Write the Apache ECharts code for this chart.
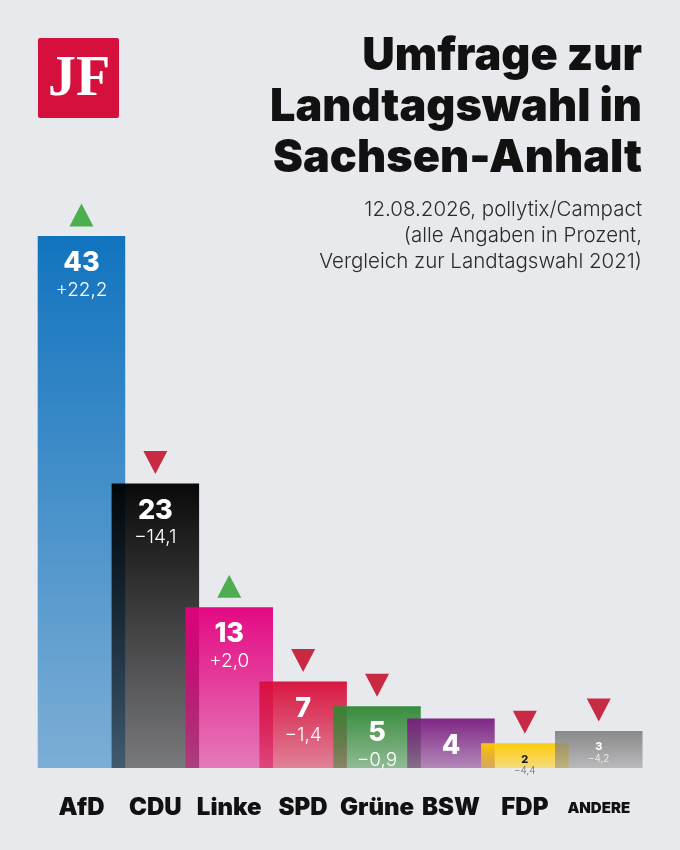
<!DOCTYPE html>
<html>
<head>
<meta charset="utf-8">
<script src="https://cdn.jsdelivr.net/npm/echarts@6/dist/echarts.min.js"></script>
<style>
html,body{margin:0;padding:0;background:#e8e9ed;}
#c{width:680px;height:850px;}
</style>
</head>
<body>
<div id="c"></div>
<script>
const categories = ['AfD','CDU','Linke','SPD','Grüne','BSW','FDP','ANDERE'];
const values = [43, 23, 13, 7, 5, 4, 2, 3];
const changes = ['+22,2','−14,1','+2,0','−1,4','−0,9','','−4,4','−4,2'];
const trends = ['up','down','up','down','down','','down','down'];
const barColors = ['#086ebc','#000000','#e3007f','#d70f3b','#2f8834','#7a1f80','#ffcb00','#858585'];
const titleLines = ['Umfrage zur','Landtagswahl in','Sachsen-Anhalt'];
const subtitleLines = ['12.08.2026, pollytix/Campact','(alle Angaben in Prozent,','Vergleich zur Landtagswahl 2021)'];

const chart = echarts.init(document.getElementById('c'), null, {renderer:'canvas'});

const FONT = 'Inter, "Noto Sans", sans-serif';
const BAR_W = 87.5;

function rgba(hex, a){
  const n = parseInt(hex.slice(1), 16);
  return 'rgba(' + ((n>>16)&255) + ',' + ((n>>8)&255) + ',' + (n&255) + ',' + a + ')';
}

const barData = values.map((v,i)=>[i, v]);
const arrowData = values.map((v,i)=>{
  if(!trends[i]) return {value:[i, v], symbolSize:0, itemStyle:{opacity:0}};
  const up = trends[i]==='up';
  return {
    value:[i, v],
    symbolRotate: up ? 0 : 180,
    itemStyle:{color: up ? '#4cae4f' : '#c92a43', opacity:1}
  };
});

function renderBar(params, api){
  const i = api.value(0);
  const v = api.value(1);
  const top = api.coord([i, v]);
  const base = api.coord([i, 0]);
  const x = top[0] - BAR_W/2;
  const h = base[1] - top[1];
  const small = v <= 3;
  const dark = barColors[i] === '#ffcb00';
  const children = [{
    type:'rect',
    shape:{x:x, y:top[1], width:BAR_W, height:h},
    style:{
      fill: new echarts.graphic.LinearGradient(0,0,0,1,[
        {offset:0, color:rgba(barColors[i], 0.96)},
        {offset:1, color:rgba(barColors[i], 0.48)}
      ])
    }
  }];
  children.push({
    type:'text',
    style:{
      text:String(v), x:top[0], y:top[1] + (small ? 16 : 27),
      fill: dark ? '#1a1a1a' : '#ffffff',
      fontFamily:FONT, fontWeight:800, fontSize: small ? 11 : 27,
      align:'center', verticalAlign:'middle'
    }
  });
  if(changes[i]){
    children.push({
      type:'text',
      style:{
        text:changes[i], x:top[0], y:top[1] + (small ? 28 : 54),
        fill: dark ? '#6b6b6b' : (small ? 'rgba(255,255,255,0.9)' : '#ffffff'),
        fontFamily:FONT, fontWeight:300, fontSize: small ? 10 : 19,
        align:'center', verticalAlign:'middle'
      }
    });
  }
  return {type:'group', children:children};
}

const graphics = [
  {type:'rect', shape:{x:38, y:38, width:81, height:80, r:2}, style:{fill:'#d5103d'}},
  {type:'text', x:79, y:81, style:{text:'JF', fill:'#ffffff', font:'bold 56px "Liberation Serif", "DejaVu Serif", serif', align:'center', verticalAlign:'middle'}}
];
titleLines.forEach((t,k)=>{
  graphics.push({type:'text', x:642, y:56 + k*51, style:{text:t, fill:'#111111', fontFamily:FONT, fontWeight:900, fontSize:45, align:'right', verticalAlign:'middle'}});
});
subtitleLines.forEach((t,k)=>{
  graphics.push({type:'text', x:642, y:210 + k*26, style:{text:t, fill:'#2a2a2a', fontFamily:FONT, fontWeight:300, fontSize:20.5, align:'right', verticalAlign:'middle'}});
});

chart.setOption({
  backgroundColor:'transparent',
  animation:false,
  grid:{left:44.5, right:44.3, top:236, bottom:82},
  xAxis:{
    type:'category',
    data: categories.map((c,i)=> i===categories.length-1 ? {value:c, textStyle:{fontSize:15, padding:[5,0,0,0]}} : c),
    axisLine:{show:false}, axisTick:{show:false},
    axisLabel:{interval:0, margin:28, color:'#111111', fontFamily:FONT, fontWeight:900, fontSize:24}
  },
  yAxis:{type:'value', min:0, max:43, show:false, splitLine:{show:false}},
  graphic: graphics,
  series:[
    {type:'custom', data:barData, renderItem:renderBar, z:2, silent:true},
    {type:'scatter', data:arrowData, symbol:'triangle', symbolSize:[24,23], symbolOffset:[0,-21], z:3, silent:true}
  ]
});
</script>
</body>
</html>
